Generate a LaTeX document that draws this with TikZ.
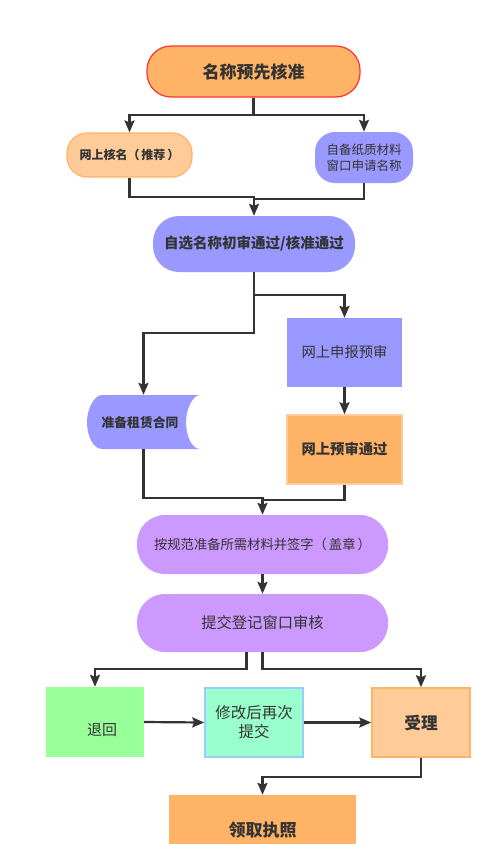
\documentclass[tikz,border=0pt]{standalone}
\usepackage{fontspec}
\newfontfamily\cjk{Noto Sans CJK SC}
\usetikzlibrary{arrows.meta,calc}
\definecolor{txt}{HTML}{333333}
\definecolor{orng}{HTML}{FFB366}
\definecolor{lorng}{HTML}{FFCC99}
\definecolor{redb}{HTML}{FF3333}
\definecolor{blu}{HTML}{9999FF}
\definecolor{vio}{HTML}{CC99FF}
\definecolor{grn}{HTML}{99FF99}
\definecolor{mint}{HTML}{99FFCC}
\definecolor{lblu}{HTML}{99CCFF}
\definecolor{line}{HTML}{333333}
\tikzset{
  box/.style={inner sep=0pt, align=center, text=txt, font=\cjk},
  arr/.style={draw=line, line width=2.2pt, -{Stealth[length=12pt,width=10pt,inset=2pt]}},
  ln/.style={draw=line, line width=2.2pt},
}
\begin{document}
\begin{tikzpicture}[x=1pt,y=-1pt]
\useasboundingbox (0,0) rectangle (500,844);
\fill[white] (0,0) rectangle (500,844);
\clip (0,0) rectangle (500,844);

% nodes
\node[box, minimum width=213pt, minimum height=51pt, fill=orng, draw=redb, line width=1.2pt, rounded corners=24pt, font=\cjk\bfseries\fontsize{17}{20}\selectfont] (top) at (253.5,71.5) {名称预先核准};
\node[box, minimum width=125pt, minimum height=44pt, fill=lorng, draw=orng, line width=1.2pt, rounded corners=20pt, font=\cjk\bfseries\fontsize{12}{15}\selectfont] (onl) at (129.5,155) {网上核名（\kern2pt推荐\kern2pt）};
\node[box, minimum width=98pt, minimum height=51pt, fill=blu, rounded corners=20pt, font=\cjk\fontsize{12.5}{16}\selectfont] (win) at (364,157.5) {自备纸质材料\\窗口申请名称};
\node[box, minimum width=202pt, minimum height=56pt, fill=blu, rounded corners=26pt, font=\cjk\bfseries\fontsize{14.5}{17}\selectfont] (sel) at (254,244) {自选名称初审通过/核准通过};
\node[box, minimum width=115pt, minimum height=69pt, fill=blu, font=\cjk\fontsize{14.3}{17}\selectfont] (pre) at (344.5,352.5) {网上申报预审};
\node[box, minimum width=115pt, minimum height=69pt, fill=orng, draw=lorng, line width=1.5pt, font=\cjk\bfseries\fontsize{14.3}{17}\selectfont] (pass) at (344.5,449.5) {网上预审通过};

% stored-data shape
\fill[blu] (200,395) -- (102,395) .. controls (93.7,395) and (87,409.9) .. (87,422)
  .. controls (87,436.9) and (93.7,449) .. (102,449) -- (200,449)
  .. controls (192.3,449) and (186,436.9) .. (186,422)
  .. controls (186,409.9) and (192.3,395) .. (200,395) -- cycle;
\node[box, minimum width=113pt, minimum height=54pt] (lease) at (143.5,422) {};
\node[box, font=\cjk\bfseries\fontsize{12.8}{15}\selectfont] (leaset) at (140,423) {准备租赁合同};

\node[box, minimum width=251pt, minimum height=59pt, fill=vio, rounded corners=28pt, font=\cjk\fontsize{13.3}{16}\selectfont] (mat) at (262.5,544.5) {按规范准备所需材料并签字（\kern2pt盖章\kern2pt）};
\node[box, minimum width=251pt, minimum height=58pt, fill=vio, rounded corners=28pt, font=\cjk\fontsize{15.3}{18}\selectfont] (sub) at (262.5,623) {提交登记窗口审核};
\node[box, minimum width=98pt, minimum height=70pt, fill=grn] (ret) at (95,722) {};
\node[box, font=\cjk\fontsize{15}{18}\selectfont] (rett) at (102,730) {退回};
\node[box, minimum width=98pt, minimum height=69pt, fill=mint, draw=lblu, line width=1.5pt, font=\cjk\fontsize{15.5}{19}\selectfont] (mod) at (254,722.5) {修改后再次\\提交};
\node[box, minimum width=98pt, minimum height=69pt, fill=lorng, draw=orng, line width=1.5pt, font=\cjk\bfseries\fontsize{16.7}{19}\selectfont] (acc) at (421,722.5) {受理};
\node[box, minimum width=187pt, minimum height=70pt, fill=orng, font=\cjk\bfseries\fontsize{17}{20}\selectfont] (lic) at (262.5,830) {领取执照};

% connectors
\draw[arr] (top.south) -- ++(0,17) -| (onl.north);
\draw[arr] (top.south) -- ++(0,17) -| (win.north);
\draw[ln] (win.south) |- ($(sel.north)+(0,-17)$);
\draw[arr] (onl.south) |- ($(sel.north)+(0,-19)$) -- (sel.north);

\draw[arr] (sel.south) -- ++(0,23) -| (pre.north);
\draw[arr] (sel.south) -- ++(0,61) -| (lease.north);
\draw[arr] (pre.south) -- (pass.north);

\draw[ln] (pass.south) |- ($(mat.north)+(0,-15)$);
\draw[arr] (lease.south) |- ($(mat.north)+(0,-17)$) -- (mat.north);

\draw[arr] (mat.south) -- (sub.north);
\draw[arr] ([xshift=-16pt]sub.south) -- ++(0,17) -| (ret.north);
\draw[arr] (sub.south) -- ++(0,17) -| (acc.north);
\draw[arr] (ret.east) -- (mod.west);
\draw[arr] (mod.east) -- (acc.west);
\draw[arr] (acc.south) -- ++(0,19) -| (lic.north);
\end{tikzpicture}
\end{document}
